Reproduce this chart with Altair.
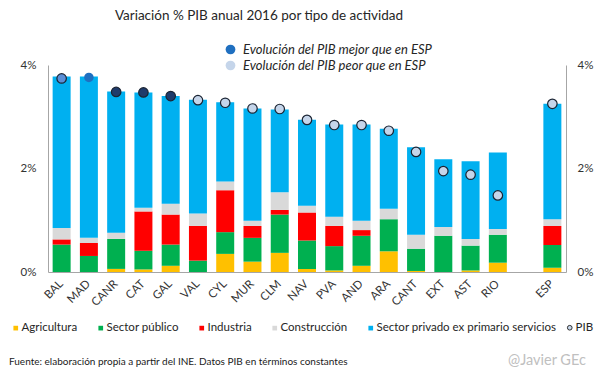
import altair as alt
import pandas as pd

regiones = ["BAL", "MAD", "CANR", "CAT", "GAL", "VAL", "CYL", "MUR", "CLM",
            "NAV", "PVA", "AND", "ARA", "CANT", "EXT", "AST", "RIO", "ESP"]
agricultura  = [0.00, 0.00, 0.06, 0.05, 0.12, 0.00, 0.35, 0.20, 0.37, 0.06, 0.03, 0.12, 0.40, 0.02, 0.00, 0.03, 0.18, 0.08]
publico      = [0.53, 0.31, 0.58, 0.36, 0.41, 0.22, 0.42, 0.46, 0.74, 0.55, 0.47, 0.58, 0.62, 0.43, 0.70, 0.48, 0.54, 0.44]
industria    = [0.10, 0.25, 0.00, 0.76, 0.58, 0.67, 0.81, 0.23, 0.09, 0.54, 0.39, 0.11, 0.00, 0.00, 0.00, 0.00, 0.00, 0.37]
construccion = [0.22, 0.10, 0.12, 0.07, 0.21, 0.24, 0.17, 0.10, 0.34, 0.13, 0.18, 0.18, 0.20, 0.27, 0.17, 0.13, 0.11, 0.13]
servicios    = [2.93, 3.12, 2.73, 2.23, 2.08, 2.20, 1.53, 2.17, 1.60, 1.66, 1.78, 1.86, 1.55, 1.69, 1.31, 1.50, 1.48, 2.23]
pib          = [3.74, 3.76, 3.48, 3.47, 3.40, 3.32, 3.27, 3.16, 3.15, 2.94, 2.84, 2.84, 2.73, 2.32, 1.95, 1.88, 1.48, 3.25]
grupo        = ["bal", "mejor", "navy", "navy", "navy", "peor", "peor", "peor", "peor",
                "peor", "peor", "peor", "peor", "peor", "peor", "peor", "peor", "peor"]

tipos = ["Agricultura", "Sector público", "Industria", "Construcción",
         "Sector privado ex primario servicios"]
colores = ["#FFC000", "#00B050", "#FF0000", "#D9D9D9", "#00B0F0"]
orden_x = regiones[:-1] + [" "] + ["ESP"]

titulo = "Variación % PIB anual 2016 por tipo de actividad"
fuente = "Fuente: elaboración  propia a partir del INE. Datos PIB en términos constantes"
autor = "@Javier GEc"

series = [agricultura, publico, industria, construccion, servicios]
filas = []
for i, r in enumerate(regiones):
    for k, t in enumerate(tipos):
        filas.append({"region": r, "tipo": t, "orden": k, "valor": series[k][i]})
df_barras = pd.DataFrame(filas)
df_puntos = pd.DataFrame({"region": regiones, "pib": pib, "grupo": grupo,
                          "serie": ["PIB"] * len(regiones)})

FONT = "Lato"

x_enc = alt.X("region:N", sort=orden_x,
              scale=alt.Scale(domain=orden_x, paddingInner=0.34, paddingOuter=0.17),
              axis=alt.Axis(title=None, labelAngle=-45, labelAlign="right",
                            labelBaseline="middle", labelPadding=10, ticks=False,
                            labelFontSize=11.5))
y_scale = alt.Scale(domain=[0, 4], nice=False, zero=True)

barras = alt.Chart(df_barras).mark_bar().encode(
    x=x_enc,
    y=alt.Y("valor:Q", stack="zero", scale=y_scale,
            axis=alt.Axis(title=None, values=[0, 2, 4], labelExpr="datum.value + '%'",
                          orient="left", labelPadding=12, ticks=False)),
    color=alt.Color("tipo:N", scale=alt.Scale(domain=tipos, range=colores),
                    legend=alt.Legend(orient="none", legendX=-38, legendY=257,
                                      direction="horizontal", title=None,
                                      symbolType="square", symbolSize=22,
                                      labelOffset=0, columnPadding=17,
                                      labelFontSize=11.5, symbolStrokeWidth=0,
                                      labelLimit=400)),
    order=alt.Order("orden:Q"),
)

puntos = alt.Chart(df_puntos).mark_point(filled=True, size=90, opacity=1,
                                         strokeWidth=1.2).encode(
    x=x_enc,
    y=alt.Y("pib:Q", scale=y_scale,
            axis=alt.Axis(title=None, values=[0, 2, 4], labelExpr="datum.value + '%'",
                          orient="right", labelPadding=11, ticks=False)),
    fill=alt.Fill("grupo:N",
                  scale=alt.Scale(domain=["mejor", "peor", "bal", "navy"],
                                  range=["#1f6fc0", "#c5d5ea", "#5b8ed6", "#1f3b6b"]),
                  legend=alt.Legend(orient="none", legendX=176, legendY=-22,
                                    direction="vertical", title=None,
                                    values=["mejor", "peor"],
                                    labelExpr="datum.value == 'mejor' ? 'Evolución del PIB mejor que en ESP' : 'Evolución del PIB peor que en ESP'",
                                    symbolType="circle", symbolSize=95,
                                    symbolStrokeWidth=0, labelFontStyle="italic",
                                    labelFontSize=13, labelOffset=6, rowPadding=2,
                                    labelLimit=400)),
    stroke=alt.condition(alt.datum.region == "MAD", alt.value("transparent"),
                         alt.value("#1b2433")),
    shape=alt.Shape("serie:N", scale=alt.Scale(domain=["PIB"], range=["circle"]),
                    legend=alt.Legend(orient="none", legendX=516, legendY=257,
                                      title=None, symbolSize=22,
                                      symbolFillColor="#c5d5ea",
                                      symbolStrokeColor="#333333",
                                      symbolStrokeWidth=1, labelOffset=0,
                                      labelFontSize=11.5, labelLimit=100)),
)

t_titulo = alt.Chart(pd.DataFrame({"t": [titulo]})).mark_text(
    fontSize=13.5, font=FONT, color="#262626", align="center", baseline="middle"
).encode(text="t:N", x=alt.value(211), y=alt.value(-49))

t_fuente = alt.Chart(pd.DataFrame({"t": [fuente]})).mark_text(
    fontSize=10, font=FONT, color="#1a1a1a", align="left", baseline="middle"
).encode(text="t:N", x=alt.value(-39), y=alt.value(297))

t_autor = alt.Chart(pd.DataFrame({"t": [autor]})).mark_text(
    fontSize=14.5, font=FONT, color="#c0c0c0", align="left", baseline="middle"
).encode(text="t:N", x=alt.value(460), y=alt.value(296))

chart = alt.layer(barras, puntos, t_titulo, t_fuente, t_autor).resolve_axis(
    y="independent"
).properties(
    width=518, height=207,
    padding={"left": 40, "top": 57, "right": 31, "bottom": 98},
    autosize=alt.AutoSizeParams(type="none"),
).configure_view(stroke=None).configure_axis(
    domainColor="#a6a6a6", grid=False, labelFont=FONT, labelColor="#333333",
    labelFontSize=11.5
).configure_legend(
    labelFont=FONT, labelColor="#262626", padding=0
)

chart.save("out.html", embed_options={"renderer": "svg", "actions": False})
